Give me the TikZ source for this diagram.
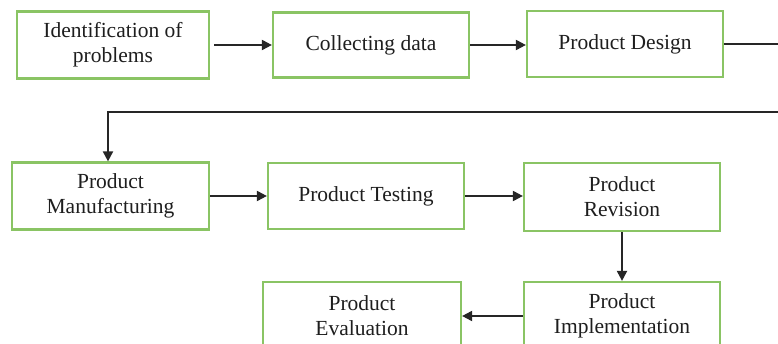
\documentclass[tikz,border=0pt]{standalone}
\usepackage{fontspec}
\setmainfont{Liberation Serif}
\usetikzlibrary{arrows.meta}
\definecolor{boxgreen}{RGB}{138,196,100}
\definecolor{txt}{RGB}{30,30,30}
\begin{document}
\begin{tikzpicture}[x=1pt,y=-1pt,
  stepbox/.style={draw=boxgreen,line width=2.2pt,fill=white,inner sep=0pt,
    minimum width=196pt,minimum height=66pt,align=center,text=txt,
    font=\fontsize{21.5}{25}\selectfont},
  conn/.style={line width=2pt,draw=black!85,-{Triangle[length=10pt,width=10pt]}}]
\useasboundingbox (0,0) rectangle (778,344);
\clip (0,0) rectangle (778,344);
\node[stepbox,minimum width=192pt,minimum height=67pt] (b1) at (113,45) {Identification of\\problems};
\node[stepbox,minimum height=65pt] (b2) at (371,45) {Collecting data};
\node[stepbox] (b3) at (625,44) {Product Design};
\node[stepbox,minimum width=197pt,minimum height=67pt] (b4) at (110.5,196) {Product\\Manufacturing};
\node[stepbox] (b5) at (366,196) {Product Testing};
\node[stepbox,minimum height=68pt] (b6) at (622,197) {Product\\Revision};
\node[stepbox,minimum height=68pt] (b7) at (622,316) {Product\\Implementation};
\node[stepbox,minimum width=198pt,minimum height=68pt] (b8) at (362,316) {Product\\Evaluation};
\coordinate (r1) at (795,44);
\coordinate (r2) at (795,112);
\coordinate (r3) at (108,112);
\draw[conn,shorten <=4pt] (b1.east) -- (b2.west);
\draw[conn] (b2.east) -- (b3.west |- b2.east);
\draw[conn] (b3.east) -- (r1) -- (r2) -- (r3) -- (r3 |- b4.north);
\draw[conn] (b4.east) -- (b5.west |- b4.east);
\draw[conn] (b5.east) -- (b6.west |- b5.east);
\draw[conn] (b6.south) -- (b7.north);
\draw[conn] (b7.west) -- (b8.east);
\end{tikzpicture}
\end{document}
